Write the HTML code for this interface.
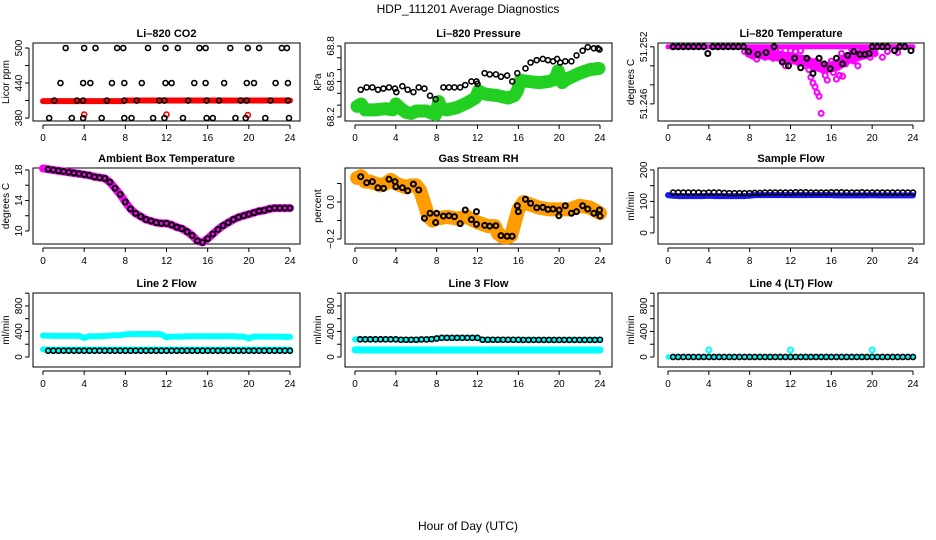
<!DOCTYPE html>
<html><head><meta charset="utf-8"><style>
html,body{margin:0;padding:0;background:#fff;}
svg{display:block;font-family:"Liberation Sans",Arial,sans-serif;}
</style></head><body>
<svg id="c" width="936" height="540" xmlns="http://www.w3.org/2000/svg">
<text x="468" y="13" text-anchor="middle" font-size="12">HDP_111201  Average Diagnostics</text>
<text x="468" y="530" text-anchor="middle" font-size="12">Hour of Day (UTC)</text>
</svg>
<script>
// ---------- data ----------
const halfHours = [0,0.5,1,1.5,2,2.5,3,3.5,4,4.5,5,5.5,6,6.5,7,7.5,8,8.5,9,9.5,10,10.5,11,11.5,12,12.5,13,13.5,14,14.5,15,15.5,16,16.5,17,17.5,18,18.5,19,19.5,20,20.5,21,21.5,22,22.5,23,23.5,24];

// CO2
const co2Hours = [2.2,4.0,5.1,7.2,7.8,10.2,11.9,13.1,15.2,15.8,18.2,19.9,21.0,23.2,23.7, 1.7,3.9,4.6,6.7,7.9,9.6,11.9,12.5,14.7,15.8,17.6,19.8,20.5,22.6,23.8, 1.1,3.3,3.9,6.2,7.9,9.1,11.3,11.8,14.1,15.9,17.1,19.2,19.8,22.1,23.8, 0.6,2.8,3.9,5.7,7.9,8.6,10.7,11.8,13.6,15.9,16.5,18.7,19.7,21.6,23.9];
const co2Values = [500,500,500,500,500,500,500,500,500,500,500,500,500,500,500, 440,440,440,440,440,440,440,440,440,440,440,440,440,440,440, 410,410,410,410,410,410,410,410,410,410,410,410,410,410,410, 380,380,380,380,380,380,380,380,380,380,380,380,380,380,380];
const co2BandHours = [0,7.8,8.0,24];
const co2BandValues = [409,409,410,410];
const co2RedHours = [4.0,12.0,19.9];
const co2RedValues = [386,386,385];

// Pressure
const presHours = [0.56,1.14,1.7,2.25,2.78,3.33,3.92,4.05,4.64,5.16,5.72,6.24,6.8,7.35,7.9,8.66,9.2,9.74,10.3,10.8,11.4,11.9,12.0,12.7,13.2,13.8,14.3,14.9,15.4,15.9,16.7,17.2,17.8,18.4,18.9,19.4,19.8,20.1,20.6,21.2,21.7,22.3,22.8,23.4,23.95,23.8];
const presValues = [68.43,68.45,68.45,68.43,68.44,68.45,68.44,68.41,68.46,68.43,68.41,68.45,68.44,68.38,68.35,68.45,68.45,68.45,68.45,68.47,68.50,68.50,68.48,68.57,68.56,68.56,68.54,68.55,68.50,68.57,68.61,68.66,68.68,68.69,68.68,68.67,68.69,68.66,68.67,68.67,68.72,68.76,68.79,68.78,68.77,68.78];
const presBandHours = [0.2,0.6,1,2,3,3.7,4,4.5,5,5.5,6,7,7.6,7.9,8.2,8.5,9,10,11,11.8,12.1,12.5,13,14,15,15.6,15.9,16.2,17,18,19,19.6,19.9,20.3,20.6,21,22,23,23.9];
const presBandValues = [68.29,68.31,68.26,68.26,68.27,68.26,68.31,68.27,68.24,68.23,68.25,68.25,68.23,68.22,68.33,68.27,68.26,68.28,68.32,68.36,68.42,68.40,68.39,68.38,68.36,68.38,68.42,68.51,68.50,68.49,68.50,68.52,68.59,68.49,68.51,68.53,68.57,68.60,68.61];

// Li-820 temperature
const tempHours = [0.5,1.0,1.5,2.0,2.5,3.0,3.5,3.9,4.4,4.9,5.4,5.9,6.4,6.9,7.4,7.9,8.8,9.6,10.4,11.2,11.8,12.4,13.0,13.6,14.2,14.8,15.3,15.9,16.5,17.1,17.6,18.2,18.8,19.3,19.7,20.0,20.5,21.0,21.5,22.2,22.7,23.2,23.8];
const tempValues = [51.252,51.252,51.252,51.252,51.252,51.252,51.252,51.2513,51.252,51.252,51.252,51.252,51.252,51.252,51.252,51.2515,51.2512,51.2514,51.252,51.2504,51.2500,51.2508,51.2498,51.2508,51.2492,51.2508,51.2502,51.2497,51.2508,51.2502,51.2511,51.2515,51.2512,51.2512,51.2513,51.252,51.252,51.252,51.252,51.2516,51.252,51.252,51.2516];
const tempMagHours = [7.5,8,8.3,8.7,9,9.5,10,10.3,10.8,11.2,11.5,11.8,12.2,12.5,12.8,13.2,13.5,13.8,14.0,14.2,14.4,14.6,14.8,15.0,15.2,15.4,15.6,15.9,16.2,16.5,16.8,17.1,17.4,17.8,18.2,18.6,19,19.4,19.8,20.3,21,21.5,22.5,11.0,12.0,13.0,14.5,16.0,17.0,18.0,19.0];
const tempMagValues = [51.2515,51.2513,51.2510,51.2507,51.2512,51.2509,51.2514,51.2508,51.2511,51.2505,51.2500,51.2510,51.2505,51.2515,51.2503,51.2508,51.2500,51.2496,51.2488,51.2482,51.2478,51.2472,51.2468,51.2450,51.2495,51.2490,51.2485,51.2498,51.2493,51.2486,51.2490,51.2489,51.2502,51.2510,51.2505,51.2500,51.2510,51.2512,51.2509,51.2513,51.2509,51.2515,51.2514,51.2516,51.2516,51.2516,51.2505,51.2505,51.2513,51.2517,51.2517];
const tempMagBandHours = [8,10,12,13.5,14.5,15.5,16.5,17.5,19,20];
const tempMagBandValues = [51.2514,51.2512,51.2508,51.2505,51.2500,51.2498,51.2500,51.2507,51.2512,51.2515];

// Ambient box temperature
const ambValues = [18.2,18.1,18.0,17.9,17.8,17.7,17.6,17.5,17.4,17.3,17.1,17.0,16.9,16.4,15.6,14.8,13.8,12.9,12.3,11.9,11.5,11.3,11.1,11.0,11.0,10.8,10.5,10.3,9.9,9.4,8.7,8.5,9.0,9.6,10.2,10.7,11.1,11.5,11.8,12.0,12.2,12.4,12.6,12.7,12.9,13.0,13.0,13.0,13.0];

// Gas stream RH
const rhHours = [0.56,1.14,1.7,2.25,2.8,3.33,3.92,4.0,4.64,5.16,5.72,6.24,6.8,7.35,7.9,8.0,8.66,9.2,9.74,10.3,10.8,11.4,11.9,11.9,12.7,13.2,13.8,14.3,14.9,15.4,15.9,16.0,16.7,17.2,17.8,18.4,18.9,19.4,19.97,20.0,20.6,21.2,21.7,22.3,22.8,23.4,23.95,24.0];
const rhValues = [0.137,0.104,0.11,0.077,0.074,0.123,0.11,0.083,0.077,0.061,0.097,0.065,-0.088,-0.061,-0.111,-0.061,-0.076,-0.074,-0.079,-0.117,-0.043,-0.095,-0.052,-0.12,-0.126,-0.13,-0.128,-0.182,-0.185,-0.185,-0.02,-0.052,0.015,-0.007,-0.031,-0.029,-0.04,-0.038,-0.074,-0.043,-0.02,-0.061,-0.052,-0.02,-0.038,-0.061,-0.043,-0.076];
const rhBandHours = [0.2,0.6,1,1.5,2,2.5,3,3.5,4,4.5,5,5.5,6,6.4,6.8,7.2,7.6,8,9,10,11,11.6,12,12.5,13,13.7,14,14.5,15,15.3,15.6,16,16.5,17,18,19,20,21,22,23,24];
const rhBandValues = [0.13,0.14,0.11,0.11,0.1,0.09,0.1,0.12,0.1,0.09,0.08,0.09,0.09,0.06,-0.01,-0.08,-0.1,-0.09,-0.08,-0.09,-0.08,-0.1,-0.11,-0.12,-0.13,-0.13,-0.17,-0.19,-0.19,-0.18,-0.12,-0.04,0.0,-0.01,-0.03,-0.04,-0.04,-0.04,-0.02,-0.03,-0.06];

// Sample flow
const sampleValues = [128,128,128,128,128,128,128,127,128,128,128,127,126,126,126,126,126,127,127,128,128,128,128,128,128,129,129,129,128,128,128,128,129,129,129,128,128,128,129,128,128,128,128,128,128,128,128,128,128];
const sampleBandValues = [120,118,117,117,117,117,117,117,118,117,117,117,117,117,117,117,118,120,120,120,120,120,120,120,120,120,120,120,120,120,120,120,120,119,119,119,119,119,119,119,120,119,119,119,119,119,119,119,119];

// Line 2 flow
const l2UpperValues = [335,335,330,330,330,330,330,330,300,325,325,325,330,335,340,340,355,360,360,360,360,360,360,355,310,320,320,320,325,325,325,325,325,325,325,325,325,325,320,320,290,320,320,320,320,320,320,315,315];
const l2LowerValues = [120,115,115,115,115,115,115,115,115,115,115,115,115,115,115,115,115,115,115,115,115,115,115,115,115,115,115,115,115,115,115,115,115,115,115,115,115,115,115,115,115,115,115,115,115,115,115,115,115];
const l2BlackValue = 98;

// Line 3 flow
const l3BlackValues = [277,277,277,277,277,277,277,277,277,270,270,270,270,275,275,280,290,300,300,300,300,300,300,300,300,270,270,270,270,270,270,270,270,268,268,268,268,268,268,268,268,268,268,268,268,268,268,268,270];
const l3LowerValues = [112,110,110,110,110,110,110,110,110,110,110,110,110,110,110,110,110,110,110,110,110,110,110,110,110,110,110,110,110,110,110,110,110,110,110,110,110,110,110,110,110,110,110,110,110,110,110,110,110];

// Line 4 flow
const l4Value = 0;
const l4SpikeHours = [4.0,12.0,20.0];
const l4SpikeValues = [110,110,110];

// ---------- helpers ----------
const svg = document.getElementById('c');
const NS = 'http://www.w3.org/2000/svg';
function mk(tag, attrs, parent){
  const e = document.createElementNS(NS, tag);
  for (const k in attrs) e.setAttribute(k, attrs[k]);
  (parent||svg).appendChild(e);
  return e;
}
const cols = [{l:33,r:300,x0:43,x24:290},{l:345,r:612,x0:355,x24:600},{l:658,r:924,x0:668,x24:913}];
const rows = [{t:43,b:121},{t:168,b:244},{t:293,b:367}];

function panel(name, title, ylab, ci, ri, ymin, ymax, ticks, labels){
  const c = cols[ci], r = rows[ri];
  const g = mk('g', {});
  
  
  const xs = h => c.x0 + h*(c.x24-c.x0)/24;
  const ys = v => r.b - (v-ymin)*(r.b-r.t)/(ymax-ymin);
  const tt = mk('text', {x:(c.l+c.r)/2, y:r.t-6, 'text-anchor':'middle','font-size':'11','font-weight':'bold'}, g);
  tt.textContent = title;
  
  
  const box = mk('rect', {x:c.l, y:r.t, width:c.r-c.l, height:r.b-r.t, fill:'none', stroke:'#000', 'stroke-width':1}, g);
  
  
  const xa = mk('g', {}, g);
  
  
  mk('line', {x1:c.x0, x2:c.x24, y1:r.b+4, y2:r.b+4, stroke:'#000'}, xa);
  for (let h=0; h<=24; h+=4){
    mk('line', {x1:xs(h), x2:xs(h), y1:r.b+4, y2:r.b+8, stroke:'#000'}, xa);
    const t = mk('text', {x:xs(h), y:r.b+20, 'text-anchor':'middle','font-size':'10'}, xa);
    t.textContent = h;
  }
  const ya = mk('g', {}, g);
  
  
  mk('line', {x1:c.l-4, x2:c.l-4, y1:ys(ticks[0]), y2:ys(ticks[ticks.length-1]), stroke:'#000'}, ya);
  ticks.forEach(v=>{ mk('line', {x1:c.l-8, x2:c.l-4, y1:ys(v), y2:ys(v), stroke:'#000'}, ya); });
  labels.forEach(l=>{
    const t = mk('text', {x:c.l-11, y:ys(l[0]), 'text-anchor':'middle','font-size':'10', transform:`rotate(-90 ${c.l-11} ${ys(l[0])})`}, ya);
    t.textContent = l[1];
  });
  const yl = mk('text', {x:c.l-24, y:(r.t+r.b)/2, 'text-anchor':'middle','font-size':'10', transform:`rotate(-90 ${c.l-24} ${(r.t+r.b)/2})`}, g);
  yl.textContent = ylab;
  
  
  return {g, xs, ys};
}
function band(p, hs, vs, color, w, nm){
  const pl = mk('polyline', {points: hs.map((h,i)=>p.xs(h)+','+p.ys(vs[i])).join(' '), fill:'none', stroke:color, 'stroke-width':w, 'stroke-linejoin':'round','stroke-linecap':'round'}, p.g);
  
  
}
function pts(p, hs, vs, color, nm, sw){
  const g = mk('g', {}, p.g);
  
  
  hs.forEach((h,i)=>{ mk('circle', {cx:p.xs(h), cy:p.ys(vs[i]), r:2.5, fill:'none', stroke:color, 'stroke-width':sw||1.6}, g); });
}

// ---------- panels ----------
let p;
p = panel('co2-panel','Li\u2013820 CO2','Licor ppm',0,0,374.9,508.6,[380,410,440,470,500],[[380,'380'],[440,'440'],[500,'500']]);
band(p, co2BandHours, co2BandValues, '#ff0000', 6, 'co2-red-series');
pts(p, co2RedHours, co2RedValues, '#ff0000', 'co2-red-outliers');
pts(p, co2Hours, co2Values, '#000', 'co2-black-series');

p = panel('pressure-panel','Li\u2013820 Pressure','kPa',1,0,68.166,68.825,[68.2,68.3,68.4,68.5,68.6,68.7,68.8],[[68.2,'68.2'],[68.5,'68.5'],[68.8,'68.8']]);
band(p, presBandHours, presBandValues, '#22d022', 13, 'pressure-green-series');
pts(p, presHours, presValues, '#000', 'pressure-black-series');

p = panel('li820-temp-panel','Li\u2013820 Temperature','degrees C',2,0,51.2442,51.2524,[51.246,51.248,51.250,51.252],[[51.246,'51.246'],[51.252,'51.252']]);
band(p, [0,24], [51.2520,51.2520], '#ff00ff', 5, 'temp-magenta-top');
band(p, tempMagBandHours, tempMagBandValues, '#ff00ff', 11, 'temp-magenta-dense');
pts(p, tempMagHours, tempMagValues, '#ff00ff', 'temp-magenta-series', 2);
pts(p, tempHours, tempValues, '#000', 'temp-black-series', 2);

p = panel('ambient-panel','Ambient Box Temperature','degrees C',0,1,8.29,18.26,[10,12,14,16,18],[[10,'10'],[14,'14'],[18,'18']]);
band(p, halfHours, ambValues, '#ff00ff', 8, 'ambient-magenta-series');
pts(p, halfHours.slice(1), ambValues.slice(1), '#000', 'ambient-black-series', 2);

p = panel('rh-panel','Gas Stream RH','percent',1,1,-0.227,0.184,[-0.2,-0.1,0,0.1],[[-0.2,'\u22120.2'],[0,'0.0']]);
band(p, rhBandHours, rhBandValues, '#ff9d00', 14, 'rh-orange-series');
pts(p, rhHours, rhValues, '#000', 'rh-black-series', 2);

p = panel('sample-flow-panel','Sample Flow','ml/min',2,1,-35,206,[0,50,100,150,200],[[0,'0'],[100,'100'],[200,'200']]);
band(p, halfHours, sampleBandValues, '#1a1aee', 6, 'sample-blue-series');
pts(p, halfHours.slice(1), sampleValues.slice(1), '#000', 'sample-black-series');

p = panel('line2-flow-panel','Line 2 Flow','ml/min',0,2,-157,1003,[0,200,400,600,800,1000],[[0,'0'],[400,'400'],[800,'800']]);
band(p, halfHours, l2UpperValues, '#00ffff', 6, 'line2-cyan-upper');
band(p, halfHours, l2LowerValues, '#00ffff', 6, 'line2-cyan-lower');
pts(p, halfHours.slice(1), halfHours.slice(1).map(()=>l2BlackValue), '#000', 'line2-black-series');

p = panel('line3-flow-panel','Line 3 Flow','ml/min',1,2,-157,1003,[0,200,400,600,800,1000],[[0,'0'],[400,'400'],[800,'800']]);
band(p, halfHours, l3BlackValues, '#00ffff', 6, 'line3-cyan-upper');
band(p, halfHours, l3LowerValues, '#00ffff', 7, 'line3-cyan-lower');
pts(p, halfHours.slice(1), l3BlackValues.slice(1), '#000', 'line3-black-series');

p = panel('line4-flow-panel','Line 4 (LT) Flow','ml/min',2,2,-157,1003,[0,200,400,600,800,1000],[[0,'0'],[400,'400'],[800,'800']]);
band(p, [0,24], [l4Value,l4Value], '#00ffff', 5, 'line4-cyan-series');
pts(p, l4SpikeHours, l4SpikeValues, '#00ffff', 'line4-cyan-spikes', 2);
pts(p, halfHours.slice(1), halfHours.slice(1).map(()=>l4Value), '#000', 'line4-black-series');
</script>
</body></html>
